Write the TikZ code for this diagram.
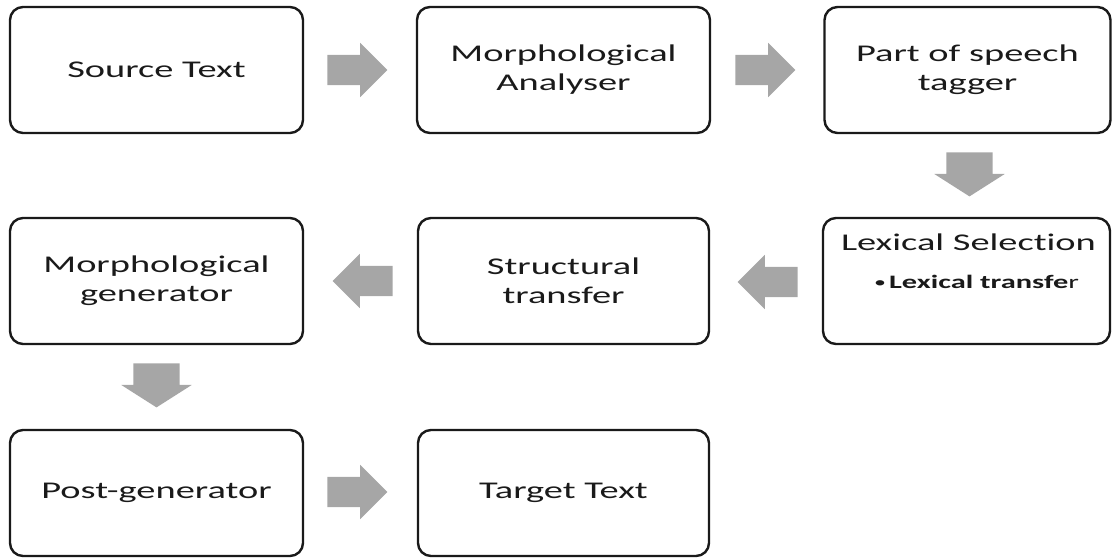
\documentclass[tikz,border=0pt]{standalone}
\usepackage{fontspec}
\setmainfont{Carlito}[FakeStretch=1.6, Ligatures=NoCommon]
\usetikzlibrary{shapes.arrows,calc}
\definecolor{arrowgray}{HTML}{A6A6A6}
\definecolor{ink}{HTML}{1A1A1A}
\tikzset{
  stage/.style={draw=ink, line width=2.4pt, rounded corners=13pt, inner sep=0pt,
    align=center, text=ink, font=\fontsize{24}{29}\selectfont,
    minimum width=293pt, minimum height=126pt},
  blockarrow/.style={shape=single arrow, fill=arrowgray, draw=none,
    inner xsep=0pt, inner ysep=15pt, single arrow head extend=12pt,
    single arrow tip angle=90, minimum height=60pt, anchor=tail},
  downarrow/.style={blockarrow, rotate=-90, inner ysep=23pt,
    minimum height=44pt, single arrow tip angle=115},
  leftarrow/.style={blockarrow, rotate=180},
}
\begin{document}
\begin{tikzpicture}[x=1pt, y=-1pt]
\useasboundingbox (0,0) rectangle (1112,558);

% pipeline stages
\node[stage] (src)  at (156.5,70)  {Source Text};
\node[stage] (ana)  at (563.5,70)  {Morphological\\Analyser};
\node[stage, minimum width=286pt] (pos) at (967.5,70) {Part of speech\\tagger};
\node[stage, minimum width=287pt] (lex) at (966.5,281) {};
\node[stage, minimum width=291pt] (str) at (563.5,281) {Structural\\transfer};
\node[stage] (gen)  at (156.5,281) {Morphological\\generator};
\node[stage] (post) at (156.5,493) {Post-generator};
\node[stage, minimum width=291pt] (tgt) at (563.5,493) {Target Text};

% lexical selection contents
\node[anchor=base, inner sep=0pt, text=ink, font=\fontsize{24}{29}\selectfont]
  (lexhead) at ($(lex.north)+(2,34)$) {Lexical Selection};
\node[anchor=base, inner sep=0pt, text=ink, font=\fontsize{19}{23}\selectfont]
  (lexitem) at ($(lex.north)+(10,72)$)
  {\raisebox{1.5pt}{\fontsize{15}{15}\selectfont•}\,\textbf{Lexical transfe}r};

% flow arrows
\node[blockarrow] (a1) at ($(src.east)+(23,0)$) {};
\node[blockarrow] (a2) at ($(ana.east)+(24,0)$) {};
\node[downarrow]  (a3) at ($(pos.south)+(2,18)$) {};
\node[leftarrow]  (a4) at ($(lex.west)+(-24,1)$) {};
\node[leftarrow]  (a5) at ($(str.west)+(-24,0)$) {};
\node[downarrow]  (a6) at ($(gen.south)+(0,18)$) {};
\node[blockarrow] (a7) at ($(post.east)+(23,-1)$) {};
\end{tikzpicture}
\end{document}
